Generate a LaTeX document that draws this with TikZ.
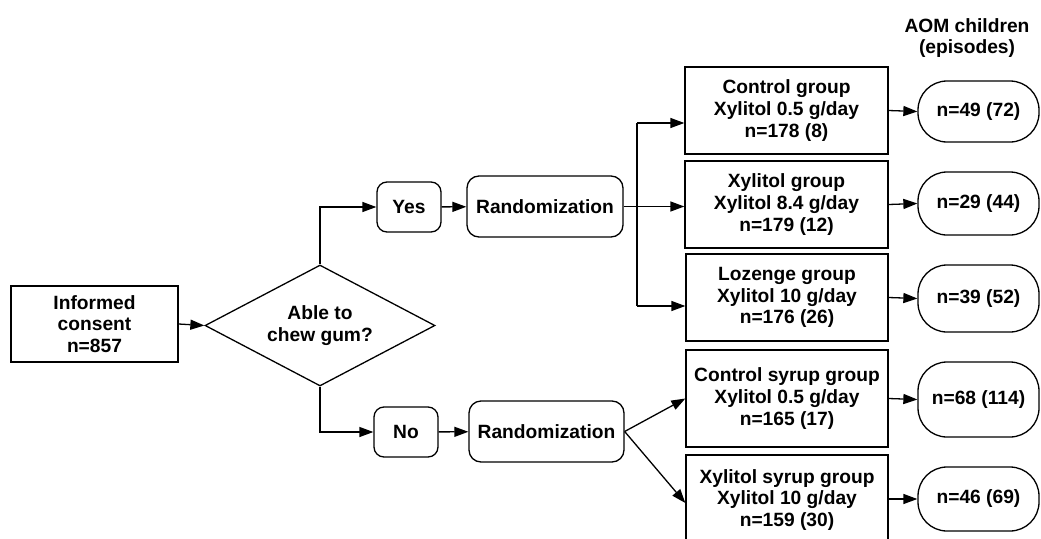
\documentclass[tikz,border=0pt]{standalone}
\usepackage{fontspec}
\setmainfont{Liberation Sans}
\usetikzlibrary{shapes.geometric,arrows.meta}
\begin{document}
\begin{tikzpicture}[x=1pt,y=-1pt,
  every node/.style={font=\bfseries\fontsize{19.2}{21.6}\selectfont, align=center, inner sep=0pt, line width=1.3pt},
  sqbox/.style={draw, rectangle, minimum width=#1},
  rbox/.style={draw, rectangle, rounded corners=10pt, minimum height=#1},
  oval/.style={draw, rectangle, rounded corners=29pt, minimum width=121pt, minimum height=#1},
  arr/.style={line width=1.3pt, -{Triangle[length=14pt,width=10pt]}},
  ln/.style={line width=1.3pt}]
\useasboundingbox (0,0) rectangle (1041,538);
\clip (0,0) rectangle (1041,538);
% nodes
\node[sqbox=167pt, minimum height=76pt] (cons) at (94.5,324) {Informed\\consent\\n=857};
\node[draw, diamond, aspect=1.9, minimum width=230pt, minimum height=121pt] (dia) at (320,325.5) {Able to\\chew gum?};
\node[rbox=50pt, minimum width=64pt] (yes) at (409,207) {Yes};
\node[rbox=61pt, minimum width=156pt, rounded corners=12pt] (r1) at (545,206.5) {Randomization};
\node[rbox=50pt, minimum width=64pt] (no) at (406,432) {No};
\node[rbox=61pt, minimum width=155pt, rounded corners=12pt] (r2) at (546.5,431.5) {Randomization};
\node[sqbox=203pt, minimum height=87pt] (g1) at (786.5,110.5) {Control group\\Xylitol 0.5 g/day\\n=178 (8)};
\node[sqbox=203pt, minimum height=87pt] (g2) at (786.5,204.5) {Xylitol group\\Xylitol 8.4 g/day\\n=179 (12)};
\node[sqbox=202pt, minimum height=87pt] (g3) at (787,297.5) {Lozenge group\\Xylitol 10 g/day\\n=176 (26)};
\node[sqbox=202pt, minimum height=97pt] (g4) at (787,398.5) {Control syrup group\\Xylitol 0.5 g/day\\n=165 (17)};
\node[sqbox=202pt, minimum height=90pt] (g5) at (787,500) {Xylitol syrup group\\Xylitol 10 g/day\\n=159 (30)};
\node[oval=61pt] (o1) at (978.5,111.5) {n=49 (72)};
\node[oval=63pt] (o2) at (978.5,203.5) {n=29 (44)};
\node[oval=67pt] (o3) at (978.5,298.5) {n=39 (52)};
\node[oval=75pt] (o4) at (978.5,399.5) {n=68 (114)};
\node[oval=64pt] (o5) at (978.5,499) {n=46 (69)};
\node (hdr) at (967,38) {AOM children\\(episodes)};
% connectors
\draw[arr] (cons.east) -- (dia.west);
\draw[arr] (dia.north) |- (yes.west);
\draw[arr] (yes) -- (r1);
\draw[arr] (dia.south) |- (no.west);
\draw[arr] (no) -- (r2);
\coordinate (t1) at (637,123);
\coordinate (t3) at (637,306);
\draw[arr] (r1.east) -- (g2.west |- r1.east);
\draw[ln] (t1) -- (t3);
\draw[arr] (t1) -- (g1.west |- t1);
\draw[arr] (t3) -- (g3.west |- t3);
\draw[arr] (r2.east) -- (g4.west);
\draw[arr] (r2.east) -- ([yshift=-3pt]g5.west);
\draw[arr] (g1.east) -- (o1.west);
\draw[arr] (g2.east) -- (o2.west);
\draw[arr] (g3.east) -- (o3.west);
\draw[arr] (g4.east) -- (o4.west);
\draw[arr] (g5.east |- o5.west) -- (o5.west);
\end{tikzpicture}
\end{document}
